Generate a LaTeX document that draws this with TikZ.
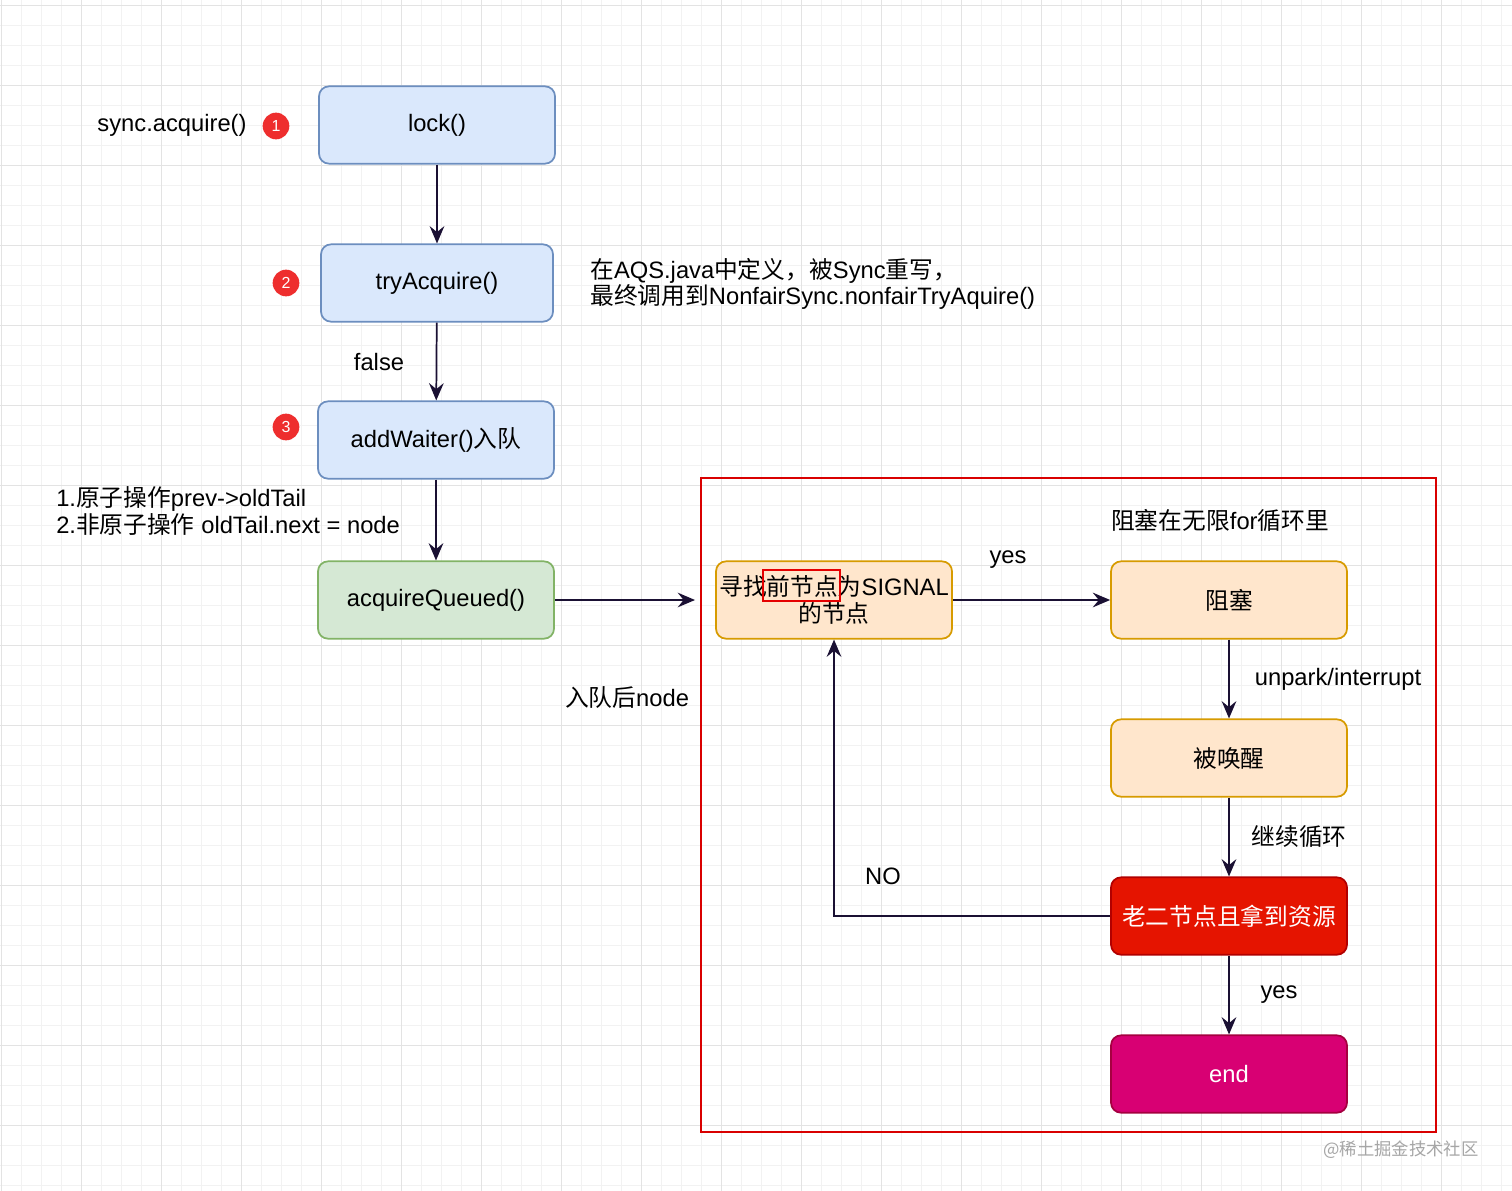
\documentclass[tikz,border=0pt]{standalone}
\usepackage{fontspec}
\usetikzlibrary{arrows.meta}
\setmainfont{Liberation Sans}
\newfontfamily\cjk{Noto Sans CJK SC}
\newcommand{\zh}[1]{{\cjk #1}}
\begin{document}
\begin{tikzpicture}[x=0.75pt,y=-0.75pt,
  box/.style={rounded corners=7.5pt,line width=1.3pt,minimum width=177pt,minimum height=58pt,font=\fontsize{17.8}{20}\selectfont,align=center,inner sep=0pt},
  blue/.style={box,fill=blueF,draw=blueS},
  green/.style={box,fill=greenF,draw=greenS},
  orange/.style={box,fill=orangeF,draw=orangeS},
  lbl/.style={font=\fontsize{17.8}{20}\selectfont,inner sep=0pt},
  badge/.style={circle,fill=badgeR,text=white,inner sep=0pt,minimum size=20pt,font=\fontsize{12}{13}\selectfont},
  arr/.style={draw=arrC,line width=1.3pt,-{Stealth[length=13pt,width=11pt,inset=4.5pt]}}]
\definecolor{blueF}{HTML}{DAE8FC}\definecolor{blueS}{HTML}{6C8EBF}\definecolor{greenF}{HTML}{D5E8D4}\definecolor{greenS}{HTML}{82B366}
\definecolor{orangeF}{HTML}{FFE6CC}\definecolor{orangeS}{HTML}{D79B00}\definecolor{badgeR}{HTML}{EE2E2E}
\definecolor{arrC}{HTML}{1A1033}\definecolor{redF}{HTML}{E51400}\definecolor{redS}{HTML}{B20000}
\useasboundingbox (0,0) rectangle (1512,1191);
\fill[white] (0,0) rectangle (1512,1191);
\foreach \i in {1,21,...,1511} \draw[black!5,line width=0.6pt] (\i,0) -- (\i,1191);
\foreach \i in {5,25,...,1191} \draw[black!5,line width=0.6pt] (0,\i) -- (1512,\i);
\foreach \i in {1,81,...,1511} \draw[black!11,line width=0.7pt] (\i,0) -- (\i,1191);
\foreach \i in {5,85,...,1191} \draw[black!11,line width=0.7pt] (0,\i) -- (1512,\i);
\draw[red!85!black,line width=1.5pt] (701,478) rectangle (1436,1132);
\node[blue] (lock) at (437,125) {lock()};
\node[blue,minimum width=174pt] (try) at (437,283) {tryAcquire()};
\node[blue] (add) at (436,440) {addWaiter()\zh{入队}};
\node[green] (aq) at (436,600) {acquireQueued()};
\node[orange] (find) at (834,600) {\zh{寻找前节点为}SIGNAL\\\zh{的节点}};
\node[orange] (blk) at (1229,600) {\zh{阻塞}};
\node[orange] (wake) at (1229,758) {\zh{被唤醒}};
\node[box,fill=redF,draw=redS,text=white] (sec) at (1229,916) {\zh{老二节点且拿到资源}};
\node[box,fill={rgb,255:red,216;green,0;blue,115},draw={rgb,255:red,165;green,0;blue,64},text=white] (end) at (1229,1074) {end};
\draw[red!90!black,line width=1.2pt] (763,570) rectangle (840,601);
\node[badge] (b1) at (276,126) {1};
\node[badge] (b2) at (286,283) {2};
\node[badge] (b3) at (286,427) {3};
\node[lbl] (sa) at (172,125) {sync.acquire()};
\node[lbl] (fl) at (379,362) {false};
\node[lbl,anchor=west,align=left] (ops) at (56,511) {1.\zh{原子操作}prev->oldTail\\2.\zh{非原子操作} oldTail.next = node};
\node[lbl,anchor=west,align=left] (aqs) at (590,284) {\zh{在}AQS.java\zh{中定义，被}Sync\zh{重写，}\\\zh{最终调用到}NonfairSync.nonfairTryAquire()};
\node[lbl] (rd) at (627,698) {\zh{入队后}node};
\node[lbl] (y1) at (1008,560) {yes};
\node[lbl] (loop) at (1220,520) {\zh{阻塞在无限}for\zh{循环里}};
\node[lbl] (up) at (1338,679) {unpark/interrupt};
\node[lbl] (cont) at (1299,837) {\zh{继续循环}};
\node[lbl] (no) at (883,876) {NO};
\node[lbl] (y2) at (1279,995) {yes};
\node[font=\fontsize{13}{14}\selectfont\cjk,text=black!35] (wm) at (1401,1150) {@稀土掘金技术社区};
\coordinate (qe) at (695,600);
\coordinate (corner) at (834,916);
\draw[arr] (lock) -- (try);
\draw[arr] (try) -- (add);
\draw[arr] (add) -- (aq);
\draw[arr] (aq) -- (qe);
\draw[arr] (find) -- (blk);
\draw[arr] (blk) -- (wake);
\draw[arr] (wake) -- (sec);
\draw[arr] (sec) -- (end);
\draw[arr] (sec.west) -- (corner) -- (find.south);
\end{tikzpicture}
\end{document}
